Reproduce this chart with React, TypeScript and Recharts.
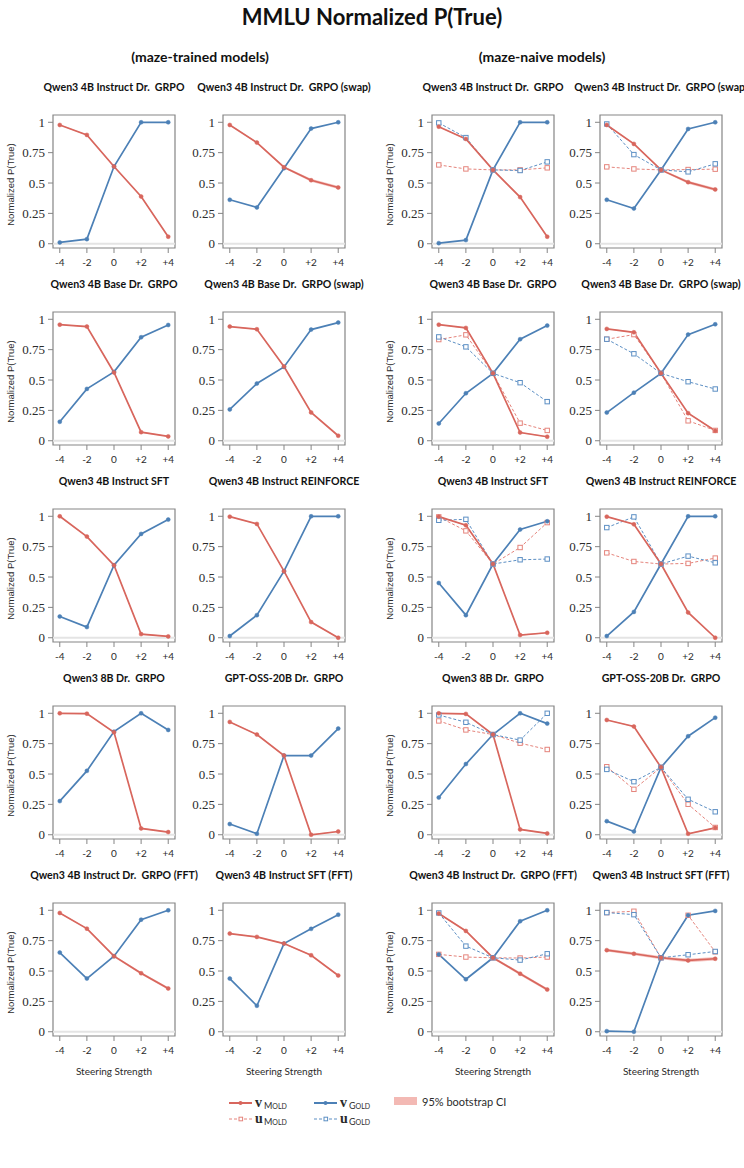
import React from 'react';
import { ComposedChart, Line, Area, XAxis, YAxis, ReferenceArea, ReferenceLine } from 'recharts';

// steering strengths on the x axis
const steps = [-4, -2, 0, 2, 4];
const stepLabels = ['-4', '-2', '0', '+2', '+4'];
const probTicks = [0, 0.25, 0.5, 0.75, 1];
const probLabels = ['0', '0.25', '0.5', '0.75', '1'];

type Panel = {
  title: string;
  vMold: number[];
  vGold: number[];
  uMold?: number[];
  uGold?: number[];
  ci: number[]; // half width of the bootstrap band around vMold
};

const thinCi = [0.003, 0.004, 0.005, 0.005, 0.004];

// maze-trained models
const trInstructGrpo: Panel = {
  title: 'Qwen3 4B Instruct Dr.  GRPO',
  vMold: [0.978, 0.896, 0.636, 0.389, 0.058],
  vGold: [0.011, 0.038, 0.636, 1.0, 1.0],
  ci: thinCi,
};
const trInstructGrpoSwap: Panel = {
  title: 'Qwen3 4B Instruct Dr.  GRPO (swap)',
  vMold: [0.978, 0.833, 0.63, 0.523, 0.463],
  vGold: [0.362, 0.299, 0.622, 0.948, 1.0],
  ci: [0.004, 0.006, 0.008, 0.012, 0.012],
};
const trBaseGrpo: Panel = {
  title: 'Qwen3 4B Base Dr.  GRPO',
  vMold: [0.956, 0.94, 0.562, 0.071, 0.036],
  vGold: [0.156, 0.427, 0.567, 0.852, 0.953],
  ci: thinCi,
};
const trBaseGrpoSwap: Panel = {
  title: 'Qwen3 4B Base Dr.  GRPO (swap)',
  vMold: [0.94, 0.918, 0.611, 0.233, 0.041],
  vGold: [0.258, 0.471, 0.608, 0.915, 0.973],
  ci: thinCi,
};
const trInstructSft: Panel = {
  title: 'Qwen3 4B Instruct SFT',
  vMold: [1.0, 0.833, 0.597, 0.03, 0.011],
  vGold: [0.175, 0.088, 0.597, 0.855, 0.973],
  ci: thinCi,
};
const trInstructReinforce: Panel = {
  title: 'Qwen3 4B Instruct REINFORCE',
  vMold: [0.997, 0.937, 0.548, 0.129, 0.0],
  vGold: [0.014, 0.186, 0.548, 1.0, 1.0],
  ci: thinCi,
};
const tr8bGrpo: Panel = {
  title: 'Qwen3 8B Dr.  GRPO',
  vMold: [1.0, 0.997, 0.844, 0.052, 0.022],
  vGold: [0.277, 0.526, 0.849, 1.0, 0.863],
  ci: thinCi,
};
const trOssGrpo: Panel = {
  title: 'GPT-OSS-20B Dr.  GRPO',
  vMold: [0.929, 0.825, 0.652, 0.0, 0.027],
  vGold: [0.088, 0.008, 0.652, 0.652, 0.874],
  ci: thinCi,
};
const trInstructGrpoFft: Panel = {
  title: 'Qwen3 4B Instruct Dr.  GRPO (FFT)',
  vMold: [0.978, 0.849, 0.622, 0.482, 0.356],
  vGold: [0.652, 0.438, 0.622, 0.923, 1.0],
  ci: [0.004, 0.006, 0.008, 0.01, 0.01],
};
const trInstructSftFft: Panel = {
  title: 'Qwen3 4B Instruct SFT (FFT)',
  vMold: [0.808, 0.781, 0.726, 0.63, 0.463],
  vGold: [0.438, 0.214, 0.726, 0.847, 0.964],
  ci: thinCi,
};

// maze-naive models
const nvInstructGrpo: Panel = {
  title: 'Qwen3 4B Instruct Dr.  GRPO',
  vMold: [0.964, 0.863, 0.608, 0.384, 0.058],
  vGold: [0.005, 0.03, 0.608, 1.0, 1.0],
  uMold: [0.649, 0.616, 0.608, 0.608, 0.625],
  uGold: [0.995, 0.874, 0.608, 0.603, 0.674],
  ci: thinCi,
};
const nvInstructGrpoSwap: Panel = {
  title: 'Qwen3 4B Instruct Dr.  GRPO (swap)',
  vMold: [0.978, 0.822, 0.608, 0.507, 0.447],
  vGold: [0.362, 0.29, 0.608, 0.945, 1.0],
  uMold: [0.633, 0.616, 0.608, 0.611, 0.614],
  uGold: [0.986, 0.734, 0.608, 0.592, 0.658],
  ci: [0.004, 0.006, 0.008, 0.012, 0.012],
};
const nvBaseGrpo: Panel = {
  title: 'Qwen3 4B Base Dr.  GRPO',
  vMold: [0.956, 0.929, 0.555, 0.068, 0.033],
  vGold: [0.142, 0.391, 0.555, 0.836, 0.948],
  uMold: [0.833, 0.872, 0.555, 0.145, 0.085],
  uGold: [0.855, 0.773, 0.555, 0.478, 0.322],
  ci: thinCi,
};
const nvBaseGrpoSwap: Panel = {
  title: 'Qwen3 4B Base Dr.  GRPO (swap)',
  vMold: [0.921, 0.893, 0.555, 0.227, 0.082],
  vGold: [0.232, 0.396, 0.555, 0.874, 0.959],
  uMold: [0.836, 0.874, 0.555, 0.164, 0.085],
  uGold: [0.836, 0.716, 0.555, 0.486, 0.426],
  ci: thinCi,
};
const nvInstructSft: Panel = {
  title: 'Qwen3 4B Instruct SFT',
  vMold: [0.997, 0.926, 0.607, 0.022, 0.041],
  vGold: [0.451, 0.186, 0.607, 0.891, 0.959],
  uMold: [0.995, 0.88, 0.607, 0.743, 0.948],
  uGold: [0.967, 0.975, 0.607, 0.642, 0.648],
  ci: thinCi,
};
const nvInstructReinforce: Panel = {
  title: 'Qwen3 4B Instruct REINFORCE',
  vMold: [0.997, 0.934, 0.607, 0.208, 0.0],
  vGold: [0.014, 0.213, 0.607, 1.0, 1.0],
  uMold: [0.699, 0.628, 0.607, 0.612, 0.656],
  uGold: [0.907, 0.995, 0.607, 0.672, 0.617],
  ci: thinCi,
};
const nv8bGrpo: Panel = {
  title: 'Qwen3 8B Dr.  GRPO',
  vMold: [1.0, 0.995, 0.825, 0.044, 0.011],
  vGold: [0.306, 0.582, 0.825, 1.0, 0.915],
  uMold: [0.937, 0.863, 0.825, 0.754, 0.702],
  uGold: [0.986, 0.926, 0.825, 0.779, 1.0],
  ci: thinCi,
};
const nvOssGrpo: Panel = {
  title: 'GPT-OSS-20B Dr.  GRPO',
  vMold: [0.945, 0.891, 0.555, 0.008, 0.057],
  vGold: [0.112, 0.027, 0.555, 0.811, 0.964],
  uMold: [0.56, 0.374, 0.555, 0.251, 0.06],
  uGold: [0.538, 0.437, 0.555, 0.292, 0.189],
  ci: thinCi,
};
const nvInstructGrpoFft: Panel = {
  title: 'Qwen3 4B Instruct Dr.  GRPO (FFT)',
  vMold: [0.973, 0.83, 0.609, 0.478, 0.347],
  vGold: [0.637, 0.432, 0.609, 0.91, 1.0],
  uMold: [0.637, 0.615, 0.609, 0.607, 0.615],
  uGold: [0.978, 0.705, 0.609, 0.59, 0.642],
  ci: [0.004, 0.006, 0.01, 0.012, 0.012],
};
const nvInstructSftFft: Panel = {
  title: 'Qwen3 4B Instruct SFT (FFT)',
  vMold: [0.672, 0.642, 0.609, 0.587, 0.601],
  vGold: [0.005, 0.0, 0.609, 0.959, 0.995],
  uMold: [0.981, 0.992, 0.609, 0.959, 0.658],
  uGold: [0.981, 0.964, 0.609, 0.634, 0.661],
  ci: [0.012, 0.012, 0.012, 0.014, 0.014],
};

const trainedPanels = [
  trInstructGrpo, trInstructGrpoSwap,
  trBaseGrpo, trBaseGrpoSwap,
  trInstructSft, trInstructReinforce,
  tr8bGrpo, trOssGrpo,
  trInstructGrpoFft, trInstructSftFft,
];
const naivePanels = [
  nvInstructGrpo, nvInstructGrpoSwap,
  nvBaseGrpo, nvBaseGrpoSwap,
  nvInstructSft, nvInstructReinforce,
  nv8bGrpo, nvOssGrpo,
  nvInstructGrpoFft, nvInstructSftFft,
];

const MOLD = '#d8665d';
const GOLD = '#4c80b6';
const MOLD_U = '#e5847c';
const GOLD_U = '#5c8fc4';
const CI_FILL = '#f3b9b4';
const FRAME = '#858585';
const INK = '#2b2b2b';

// grid geometry (plot box of every small chart)
const colLefts = [53, 223, 432, 600];
const rowTops = [115, 312, 509, 706, 903];
const BOX_W = 122;
const BOX_H = 133;
const Y_AXIS_W = 50;
const PAD = 4;
const X_AXIS_H = 26;
const X_DOMAIN: [number, number] = [-4.5, 4.5];
const Y_DOMAIN: [number, number] = [-0.035, 1.06];

const squareDot = (color: string) => (props: any) => {
  const { cx, cy, key } = props;
  if (cx == null || cy == null) return <g key={key} />;
  return (
    <rect key={key} x={cx - 2.2} y={cy - 2.2} width={4.4} height={4.4}
      fill="#fff" stroke={color} strokeWidth={1} />
  );
};

function SmallPanel({ p, left, top }: { p: Panel; left: number; top: number }) {
  const rows = steps.map((s, i) => ({
    x: s,
    vMold: p.vMold[i],
    vGold: p.vGold[i],
    uMold: p.uMold ? p.uMold[i] : undefined,
    uGold: p.uGold ? p.uGold[i] : undefined,
    ci: [p.vMold[i] - p.ci[i], p.vMold[i] + p.ci[i]],
  }));
  return (
    <div style={{ position: 'absolute', left: left - Y_AXIS_W, top: top - PAD }}>
      <ComposedChart
        width={Y_AXIS_W + BOX_W + PAD}
        height={PAD + BOX_H + X_AXIS_H}
        data={rows}
        margin={{ top: PAD, right: PAD, bottom: 0, left: 0 }}
      >
        <XAxis
          type="number" dataKey="x" domain={X_DOMAIN} ticks={steps} interval={0}
          allowDataOverflow height={X_AXIS_H}
          tickFormatter={(v: number) => stepLabels[steps.indexOf(v)]}
          axisLine={false} tickSize={5} tickMargin={6}
          tickLine={{ stroke: FRAME }}
          tick={{ fill: INK, fontSize: 10, fontFamily: 'Lato' }}
        />
        <YAxis
          type="number" domain={Y_DOMAIN} ticks={probTicks} interval={0}
          allowDataOverflow width={Y_AXIS_W}
          tickFormatter={(v: number) => probLabels[probTicks.indexOf(v)]}
          axisLine={false} tickSize={5} tickMargin={3}
          tickLine={{ stroke: FRAME }}
          tick={{ fill: INK, fontSize: 13, fontFamily: 'Liberation Serif' }}
        />
        <ReferenceLine y={0} stroke="#e4e4e4" strokeWidth={2} />
        <ReferenceArea x1={X_DOMAIN[0]} x2={X_DOMAIN[1]} y1={Y_DOMAIN[0]} y2={Y_DOMAIN[1]}
          fill="none" stroke={FRAME} strokeWidth={1.2} />
        <Area dataKey="ci" type="linear" stroke="none" fill={CI_FILL} fillOpacity={0.85}
          isAnimationActive={false} />
        {p.uMold && (
          <Line dataKey="uMold" type="linear" stroke={MOLD_U} strokeWidth={1}
            strokeDasharray="3 2" dot={squareDot(MOLD_U)} activeDot={false}
            isAnimationActive={false} />
        )}
        {p.uGold && (
          <Line dataKey="uGold" type="linear" stroke={GOLD_U} strokeWidth={1}
            strokeDasharray="3 2" dot={squareDot(GOLD_U)} activeDot={false}
            isAnimationActive={false} />
        )}
        <Line dataKey="vGold" type="linear" stroke={GOLD} strokeWidth={1.7}
          dot={{ r: 2, fill: GOLD, stroke: GOLD, strokeWidth: 0.5 }} activeDot={false}
          isAnimationActive={false} />
        <Line dataKey="vMold" type="linear" stroke={MOLD} strokeWidth={1.7}
          dot={{ r: 2, fill: MOLD, stroke: MOLD, strokeWidth: 0.5 }} activeDot={false}
          isAnimationActive={false} />
      </ComposedChart>
    </div>
  );
}

const legendLines = [
  { x: 229, y: 1103, color: MOLD, dashed: false, sym: 'v', sub: 'MOLD' },
  { x: 229, y: 1119, color: MOLD_U, dashed: true, sym: 'u', sub: 'MOLD' },
  { x: 314, y: 1103, color: GOLD, dashed: false, sym: 'v', sub: 'GOLD' },
  { x: 314, y: 1119, color: GOLD_U, dashed: true, sym: 'u', sub: 'GOLD' },
];

function Annotations() {
  const placed = [
    ...trainedPanels.map((p, i) => ({ p, col: i % 2, row: Math.floor(i / 2) })),
    ...naivePanels.map((p, i) => ({ p, col: 2 + (i % 2), row: Math.floor(i / 2) })),
  ];
  return (
    <svg width={744} height={1168} style={{ position: 'absolute', left: 0, top: 0 }}>
      <text x={372} y={25} textAnchor="middle" fontFamily="Lato" fontWeight={700}
        fontSize={22} fill="#111">MMLU Normalized P(True)</text>
      <text x={200} y={62} textAnchor="middle" fontFamily="Lato" fontWeight={700}
        fontSize={14} fill="#111">(maze-trained models)</text>
      <text x={542} y={62} textAnchor="middle" fontFamily="Lato" fontWeight={700}
        fontSize={14} fill="#111">(maze-naive models)</text>

      {placed.map(({ p, col, row }) => (
        <text key={`${col}-${row}`} x={colLefts[col] + BOX_W / 2} y={rowTops[row] - 24}
          textAnchor="middle" fontFamily="Lato" fontWeight={700} fontSize={10.6} fill="#111"
          style={{ whiteSpace: 'pre' }}>{p.title}</text>
      ))}

      {rowTops.map((top) => [0, 2].map((col) => (
        <text key={`yl-${top}-${col}`} x={0} y={0} fontFamily="Liberation Sans" fontSize={9.5}
          fill={INK} textAnchor="middle" dominantBaseline="middle"
          transform={`translate(${colLefts[col] - 42},${top + BOX_H / 2 + 3}) rotate(-90)`}>
          Normalized P(True)
        </text>
      )))}

      {colLefts.map((left) => (
        <text key={`xl-${left}`} x={left + BOX_W / 2} y={1075} textAnchor="middle"
          fontFamily="Lato" fontSize={10} fill={INK}>Steering Strength</text>
      ))}

      {legendLines.map((l) => (
        <g key={`${l.sym}${l.sub}`}>
          <line x1={l.x} x2={l.x + 23} y1={l.y} y2={l.y} stroke={l.color}
            strokeWidth={l.dashed ? 1 : 2} strokeDasharray={l.dashed ? '3 2' : undefined} />
          {l.dashed ? (
            <rect x={l.x + 10} y={l.y - 1.8} width={3.6} height={3.6} fill="#fff"
              stroke={l.color} strokeWidth={1} />
          ) : (
            <circle cx={l.x + 11.5} cy={l.y} r={2} fill={l.color} />
          )}
          <text x={l.x + 26} y={l.y + 4} fontFamily="Liberation Serif" fontWeight={700}
            fontSize={14} fill={INK}>{l.sym}</text>
          <text x={l.x + 35} y={l.y + 6} fontFamily="Lato" fontSize={9} fill={INK}>
            {l.sub[0]}<tspan fontSize={7}>{l.sub.slice(1)}</tspan>
          </text>
        </g>
      ))}
      <rect x={394} y={1097} width={23} height={8} fill={CI_FILL} />
      <text x={422} y={1106} fontFamily="Lato" fontSize={11} fill={INK}>95% bootstrap CI</text>
    </svg>
  );
}

export default function App() {
  return (
    <div style={{ position: 'absolute', left: 0, top: 0, width: 744, height: 1168,
      overflow: 'hidden', background: '#fff' }}>
      <Annotations />
      {trainedPanels.map((p, i) => (
        <SmallPanel key={`t${i}`} p={p} left={colLefts[i % 2]} top={rowTops[Math.floor(i / 2)]} />
      ))}
      {naivePanels.map((p, i) => (
        <SmallPanel key={`n${i}`} p={p} left={colLefts[2 + (i % 2)]} top={rowTops[Math.floor(i / 2)]} />
      ))}
    </div>
  );
}
